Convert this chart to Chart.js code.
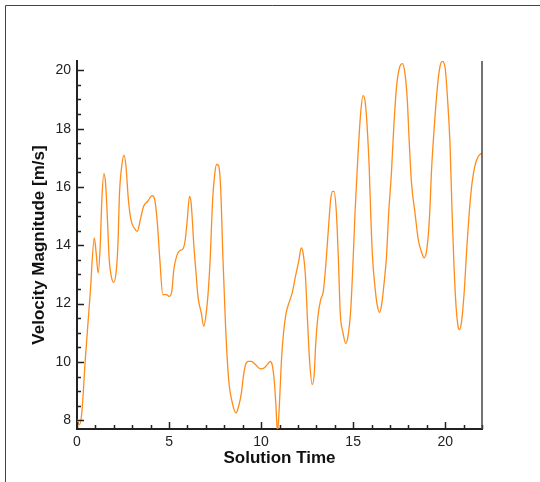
<!DOCTYPE html>
<html>
<head>
<meta charset="utf-8">
<script src="https://cdn.jsdelivr.net/npm/chart.js@4/dist/chart.umd.min.js"></script>
<style>
  html, body { margin: 0; padding: 0; background: #fff; }
  #wrap { position: relative; width: 540px; height: 482px; }
</style>
</head>
<body>
<div id="wrap"><canvas id="myChart"></canvas></div>
<script>
// Velocity Magnitude vs Solution Time

const solutionTime = [
  0.00, 0.14, 0.26, 0.45, 0.72, 0.94, 1.04, 1.15, 1.26, 1.35, 1.46, 1.55, 1.63, 1.75, 1.86, 1.99,
  2.12, 2.22, 2.31, 2.43, 2.55, 2.66, 2.79, 2.93, 3.11, 3.28, 3.44, 3.62, 3.84, 4.08, 4.22, 4.35,
  4.50, 4.66, 4.86, 5.00, 5.15, 5.26, 5.44, 5.59, 5.75, 5.88, 5.99, 6.11, 6.20, 6.35, 6.48, 6.57,
  6.75, 6.89, 7.02, 7.15, 7.25, 7.35, 7.47, 7.58, 7.69, 7.80, 7.93, 8.07, 8.24, 8.44, 8.64, 8.78,
  8.93, 9.04, 9.16, 9.29, 9.47, 9.69, 9.98, 10.16, 10.38, 10.49, 10.60, 10.71, 10.80, 10.89, 11.00, 11.10,
  11.22, 11.36, 11.51, 11.69, 11.87, 12.06, 12.18, 12.28, 12.41, 12.52, 12.63, 12.78, 12.89, 12.96, 13.09, 13.24,
  13.38, 13.51, 13.64, 13.78, 13.89, 13.96, 14.09, 14.20, 14.30, 14.45, 14.60, 14.72, 14.87, 15.00, 15.11, 15.25,
  15.41, 15.54, 15.65, 15.76, 15.87, 15.96, 16.05, 16.20, 16.32, 16.43, 16.56, 16.70, 16.81, 16.94, 17.08, 17.21,
  17.36, 17.54, 17.68, 17.81, 17.94, 18.05, 18.17, 18.36, 18.54, 18.73, 18.85, 19.00, 19.14, 19.27, 19.41, 19.58,
  19.72, 19.86, 20.01, 20.13, 20.26, 20.37, 20.48, 20.59, 20.70, 20.77, 20.88, 21.03, 21.17, 21.32, 21.46, 21.61,
  21.76, 21.93, 22.00
];

const velocityMagnitude = [
  8.02, 7.85, 8.25, 10.08, 12.37, 14.25, 13.74, 13.05, 13.97, 15.57, 16.46, 16.14, 15.22, 13.51, 12.94, 12.73,
  13.05, 13.97, 15.80, 16.71, 17.09, 16.71, 15.57, 14.88, 14.59, 14.48, 14.88, 15.34, 15.51, 15.70, 15.57, 14.88,
  13.51, 12.31, 12.31, 12.25, 12.42, 13.17, 13.68, 13.82, 13.87, 14.19, 14.88, 15.68, 15.45, 13.97, 12.94, 12.25,
  11.68, 11.22, 11.68, 12.60, 13.74, 15.34, 16.37, 16.77, 16.73, 16.02, 13.51, 11.22, 9.39, 8.59, 8.25, 8.48,
  8.94, 9.51, 9.91, 10.02, 10.02, 9.91, 9.76, 9.79, 9.94, 10.02, 9.91, 9.39, 8.59, 7.60, 8.60, 10.00,
  11.00, 11.68, 12.02, 12.37, 12.94, 13.51, 13.91, 13.74, 12.94, 11.45, 10.08, 9.22, 9.62, 10.54, 11.57, 12.14,
  12.42, 13.28, 14.42, 15.57, 15.85, 15.85, 15.11, 13.51, 11.68, 11.00, 10.63, 10.88, 11.80, 13.51, 15.22, 16.94,
  18.54, 19.13, 18.94, 18.08, 16.71, 14.99, 13.62, 12.48, 11.91, 11.70, 12.02, 12.82, 13.60, 15.20, 16.48, 18.08,
  19.45, 20.14, 20.23, 19.91, 19.00, 17.51, 16.14, 15.11, 14.19, 13.74, 13.57, 13.85, 14.88, 16.71, 18.08, 19.45,
  20.14, 20.31, 20.02, 19.00, 17.51, 15.22, 13.28, 11.91, 11.22, 11.11, 11.34, 12.37, 13.85, 15.22, 16.14, 16.71,
  17.00, 17.14, 17.16
];

// tick labels and minor tick steps
const xTickLabels = [0, 5, 10, 15, 20];
const yTickLabels = [8, 10, 12, 14, 16, 18, 20];
const xMinorStep = 1;
const yMinorStep = 0.5;

const xRange = [0, 22];
const yRange = [7.7, 20.32];

const points = solutionTime.map((t, i) => ({ x: t, y: velocityMagnitude[i] }));

// inward tick marks, right axis line and the outer frame
const axisDecor = {
  id: 'axisDecor',
  afterDatasetsDraw(chart) {
    const ctx = chart.ctx;
    const a = chart.chartArea;
    const xs = chart.scales.x;
    const ys = chart.scales.y;
    ctx.save();
    ctx.strokeStyle = '#222';
    ctx.lineWidth = 1.5;
    ctx.beginPath();
    for (let v = xRange[0]; v <= xRange[1] + 1e-6; v += xMinorStep) {
      const px = Math.round(xs.getPixelForValue(v)) + 0.5;
      const len = xTickLabels.includes(v) ? 7 : 4;
      ctx.moveTo(px, a.bottom);
      ctx.lineTo(px, a.bottom - len);
    }
    for (let v = 8; v <= yRange[1]; v += yMinorStep) {
      const py = Math.round(ys.getPixelForValue(v)) + 0.5;
      const len = yTickLabels.includes(v) ? 7 : 4;
      ctx.moveTo(a.left, py);
      ctx.lineTo(a.left + len, py);
    }
    ctx.stroke();

    // right axis line
    ctx.strokeStyle = '#444';
    ctx.beginPath();
    ctx.moveTo(a.right, a.top);
    ctx.lineTo(a.right, a.bottom);
    ctx.stroke();

    // outer frame
    ctx.strokeStyle = '#444';
    ctx.lineWidth = 1;
    ctx.beginPath();
    ctx.moveTo(5.5, 482);
    ctx.lineTo(5.5, 5.5);
    ctx.lineTo(540, 5.5);
    ctx.stroke();
    ctx.restore();
  }
};

const data = {
  datasets: [{
    label: 'Velocity Magnitude',
    data: points,
    showLine: true,
    borderColor: '#ff8c1a',
    borderWidth: 1.3,
    pointRadius: 0,
    cubicInterpolationMode: 'monotone',
    fill: false
  }]
};

const config = {
  type: 'scatter',
  data: data,
  options: {
    responsive: true,
    maintainAspectRatio: false,
    animation: false,
    layout: { padding: { left: 0, top: 61, right: 58, bottom: 0 } },
    plugins: {
      legend: { display: false },
      tooltip: { enabled: false }
    },
    scales: {
      x: {
        type: 'linear',
        min: xRange[0],
        max: xRange[1],
        afterFit: (s) => { s.height = 53; },
        afterBuildTicks: (s) => { s.ticks = xTickLabels.map(v => ({ value: v })); },
        grid: { display: false, drawTicks: false },
        border: { display: true, color: '#222', width: 2 },
        ticks: {
          padding: 5,
          color: '#222',
          maxRotation: 0,
          font: { family: 'Liberation Sans, Arial, sans-serif', size: 14 }
        },
        title: {
          display: true,
          text: 'Solution Time',
          color: '#111',
          padding: { top: 0, bottom: 13 },
          font: { family: 'Liberation Sans, Arial, sans-serif', size: 17, weight: 'bold' }
        }
      },
      y: {
        type: 'linear',
        min: yRange[0],
        max: yRange[1],
        afterFit: (s) => { s.width = 77; },
        afterBuildTicks: (s) => { s.ticks = yTickLabels.map(v => ({ value: v })); },
        grid: { display: false, drawTicks: false },
        border: { display: true, color: '#222', width: 2 },
        ticks: {
          padding: 6,
          color: '#222',
          font: { family: 'Liberation Sans, Arial, sans-serif', size: 14 }
        },
        title: {
          display: true,
          text: 'Velocity Magnitude [m/s]',
          color: '#111',
          padding: { top: 29, bottom: 0 },
          font: { family: 'Liberation Sans, Arial, sans-serif', size: 17, weight: 'bold' }
        }
      }
    }
  },
  plugins: [axisDecor]
};

const myChart = new Chart(document.getElementById('myChart'), config);
</script>
</body>
</html>
